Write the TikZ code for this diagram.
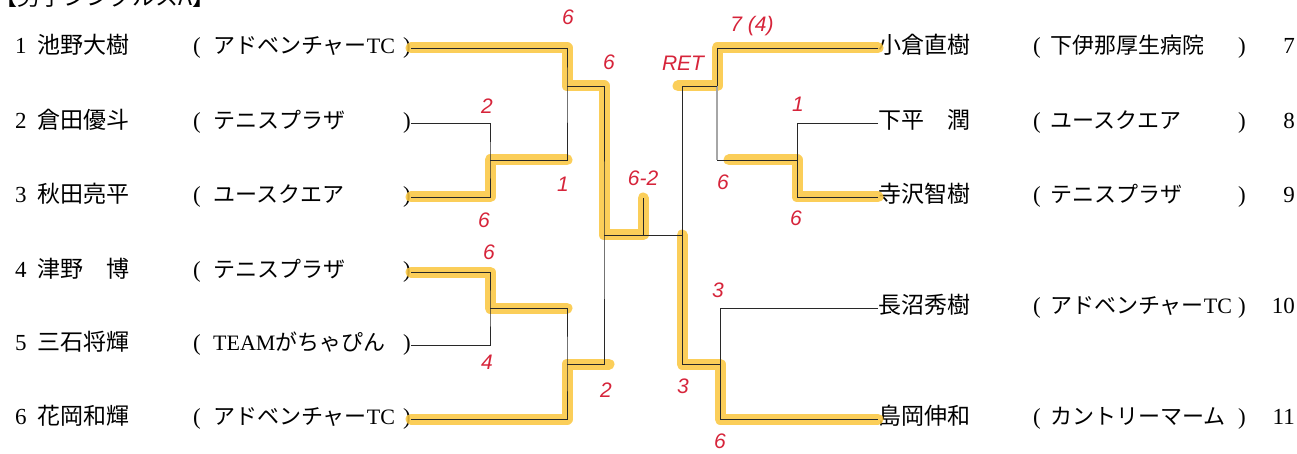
\documentclass[tikz,border=0pt]{standalone}
\usepackage{fontspec}
\setmainfont{Liberation Serif}
\newfontfamily\cjk{Noto Sans CJK JP}
\newfontfamily\hand{Liberation Sans}
\definecolor{hlcol}{RGB}{250,198,60}
\definecolor{redpen}{RGB}{214,36,58}
\definecolor{ink}{RGB}{40,40,40}
\tikzset{
  txt/.style={inner sep=0pt, anchor=west, text height=17pt, text depth=6pt},
  num/.style={txt, font=\fontsize{23}{23}\selectfont},
  pname/.style={txt, font=\cjk\fontsize{23}{23}\selectfont},
  club/.style={txt, font=\cjk\fontsize{22}{22}\selectfont},
  par/.style={inner sep=0pt, text height=17pt, text depth=6pt, font=\fontsize{23}{23}\selectfont},
  score/.style={inner sep=0pt, text=redpen, font=\hand\itshape\fontsize{21}{21}\selectfont},
  br/.style={draw=ink, line width=0.9pt},
  pencil/.style={draw=gray!70, line width=1.1pt},
  hl/.style={draw=hlcol, opacity=0.85, line width=11pt, line cap=round, line join=round},
}
\begin{document}
\begin{tikzpicture}[x=1pt,y=-1pt]
\useasboundingbox (0,0) rectangle (1297,454);
\clip (0,0) rectangle (1297,454);
% title (partly cut off at the top, as in the reference)
\node[pname, anchor=west] (title) at (-6,0) {【男子シングルスA】};
% left entries
\foreach \i/\y/\nm/\cl in {1/48/池野大樹/アドベンチャー{\rmfamily TC},2/123/倉田優斗/テニスプラザ,3/197/秋田亮平/ユースクエア,4/272/津野　博/テニスプラザ,5/345/三石将輝/{\rmfamily TEAM}がちゃぴん,6/419/花岡和輝/アドベンチャー{\rmfamily TC}}{
  \node[num] (n\i) at (15,\y) {\i};
  \node[pname] (p\i) at (37,\y) {\nm};
  \node[par, anchor=west] (l\i) at (193,\y) {(};
  \node[club] (c\i) at (213,\y) {\cl};
  \node[par, anchor=east] (r\i) at (411,\y) {)};
}
% right entries
\foreach \i/\y/\nm/\cl in {7/48/小倉直樹/下伊那厚生病院,8/123/下平　潤/ユースクエア,9/197/寺沢智樹/テニスプラザ,10/308/長沼秀樹/アドベンチャー{\rmfamily TC},11/419/島岡伸和/カントリーマーム}{
  \node[pname] (p\i) at (878,\y) {\nm};
  \node[par, anchor=west] (l\i) at (1033,\y) {(};
  \node[club] (c\i) at (1050,\y) {\cl};
  \node[par, anchor=west] (r\i) at (1238,\y) {)};
  \node[par, anchor=east] (n\i) at (1295,\y) {\i};
}
% joints
\coordinate (m23) at (490,160);
\coordinate (m123) at (567,86);
\coordinate (m45) at (490,308);
\coordinate (m456) at (567,364);
\coordinate (mL) at (604,235);
\coordinate (fin) at (643,198);
\coordinate (mR) at (682,235);
\coordinate (m789) at (717,86);
\coordinate (m89) at (797,160);
\coordinate (m1011) at (720,364);
% highlighter (winners)
\draw[hl] (r1.east) -| (m123) -| (mL) -| (fin);
\draw[hl] (r3.east) -| (m23) -- (m23 -| m123);
\draw[hl] (r4.east) -| (m45) -- (m45 -| m456);
\draw[hl] (r6.east) -| (m456) -- ([xshift=5pt]m456 -| mL);
\draw[hl] (p7.west) -| (m789) -- ([xshift=-4pt]m789 -| mR);
\draw[hl] (p9.west) -| (m89) -- ++(-68,0);
\draw[hl] (p11.west) -| (m1011) -| (mR);
% bracket lines
\draw[br] (r2.east) -| (m23) |- (r3.east);
\draw[br] (r1.east) -| (m123) |- (m23);
\draw[br] (r4.east) -| (m45) |- (r5.east);
\draw[br] (r6.east) -| (m456) |- (m45);
\draw[br] (m123) -| (mL) |- (m456);
\draw[br] (mL) -- (mR);
\draw[br] (fin) -- (fin |- mL);
\draw[br] (p8.west) -| (m89) |- (p9.west);
\draw[br] (p7.west) -| (m789);
\draw[pencil] (m789) -- (m789 |- m89);
\draw[br] (m789 |- m89) -- (m89);
\draw[br] (m789) -| (mR) |- (m1011);
\draw[br] (p10.west) -| (m1011) |- (p11.west);
% handwritten scores
\node[score] (s1) at (568,17) {6};
\node[score] (s2) at (609,62) {6};
\node[score] (s3) at (487,106) {2};
\node[score] (s4) at (563,184) {1};
\node[score] (s5) at (484,220) {6};
\node[score] (s6) at (643,178) {6-2};
\node[score] (s7) at (683,63) {RET};
\node[score] (s8) at (752,26) {7 (4)};
\node[score] (s9) at (798,104) {1};
\node[score] (s10) at (723,182) {6};
\node[score] (s11) at (796,218) {6};
\node[score] (s12) at (489,252) {6};
\node[score] (s13) at (487,362) {4};
\node[score] (s14) at (606,390) {2};
\node[score] (s15) at (718,290) {3};
\node[score] (s16) at (683,386) {3};
\node[score] (s17) at (720,441) {6};
\end{tikzpicture}
\end{document}
